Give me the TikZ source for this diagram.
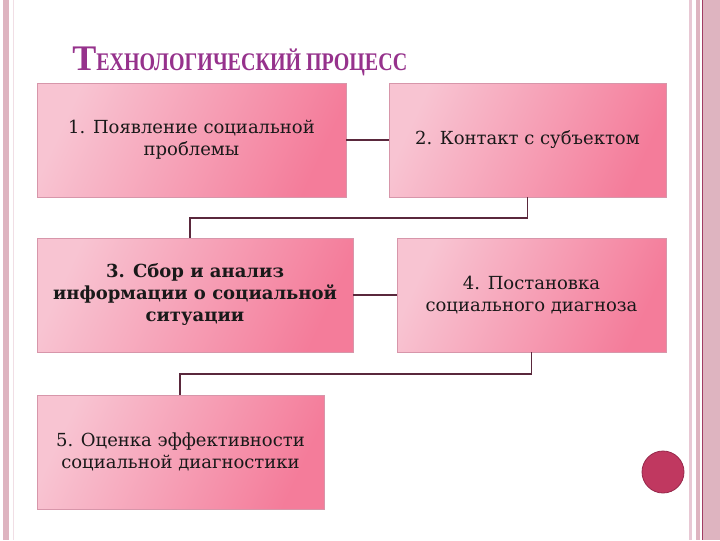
\documentclass[tikz,border=0pt]{standalone}
\usepackage{fontspec}
\setmainfont{DejaVu Serif}
\newfontfamily\titlefont{Liberation Serif}
\usetikzlibrary{calc}
\definecolor{pinkL}{RGB}{248,196,210}
\definecolor{pinkR}{RGB}{244,124,154}
\definecolor{boxedge}{RGB}{215,150,170}
\definecolor{linkc}{RGB}{90,40,60}
\definecolor{titlec}{RGB}{150,50,140}
\definecolor{bandc}{RGB}{222,180,192}
\definecolor{bandlt}{RGB}{232,200,212}
\definecolor{banddk}{RGB}{160,60,100}
\definecolor{dotc}{RGB}{192,56,96}
\definecolor{dotedge}{RGB}{150,40,75}
\tikzset{
  pbox/.style={draw=boxedge, line width=0.4pt, left color=pinkL, right color=pinkR, shading angle=65,
    inner sep=0pt, font=\fontsize{13.5}{16.5}\selectfont, align=center, text=black!90},
  link/.style={draw=linkc, line width=0.8pt}
}
\begin{document}
\begin{tikzpicture}[x=0.75pt,y=-0.75pt]
\useasboundingbox (0,0) rectangle (720,540);
\fill[white] (0,0) rectangle (720,540);
% left border
\fill[bandc] (3,0) rectangle (9,540);
\fill[bandlt!60] (13,0) rectangle (14,540);
% right border
\fill[bandlt] (689,0) rectangle (692,540);
\fill[bandc] (696,0) rectangle (700,540);
\fill[bandc] (703,0) rectangle (720,540);
\fill[banddk] (701.5,0) rectangle (703,540);
% title
\node[anchor=base west, inner sep=0pt, text=titlec] (title) at (72,70)
  {\titlefont\bfseries\fontsize{27}{30}\selectfont Т\fontsize{19}{22}\selectfont\scalebox{0.79}[1]{ЕХНОЛОГИЧЕСКИЙ ПРОЦЕСС}};
% boxes
\node[pbox, minimum width=231.75pt, minimum height=85.5pt] (b1) at (191.5,140) {1. Появление социальной\\проблемы};
\node[pbox, minimum width=207.75pt, minimum height=85.5pt] (b2) at (527.5,140) {2. Контакт с субъектом};
\node[pbox, minimum width=237pt, minimum height=85.5pt, font=\fontsize{13.5}{16.5}\selectfont\bfseries] (b3) at (195,295) {3. Сбор и анализ\\информации о социальной\\ситуации};
\node[pbox, minimum width=201.75pt, minimum height=85.5pt] (b4) at (531.5,295) {4. Постановка\\социального диагноза};
\node[pbox, minimum width=215.25pt, minimum height=85.5pt] (b5) at (180.5,452) {5. Оценка эффективности\\социальной диагностики};
% connectors
\coordinate (k1) at (190,218);
\coordinate (k2) at (180,374);
\draw[link] (b1.east) -- (b2.west);
\draw[link] (b2.south) |- (k1) -- (k1 |- b3.north);
\draw[link] (b3.east) -- (b4.west);
\draw[link] (b4.south) |- (k2) -- (k2 |- b5.north);
% dot
\node[circle, fill=dotc, draw=dotedge, line width=0.6pt, minimum size=31.5pt, inner sep=0pt] (dot) at (663,472) {};
\end{tikzpicture}
\end{document}
